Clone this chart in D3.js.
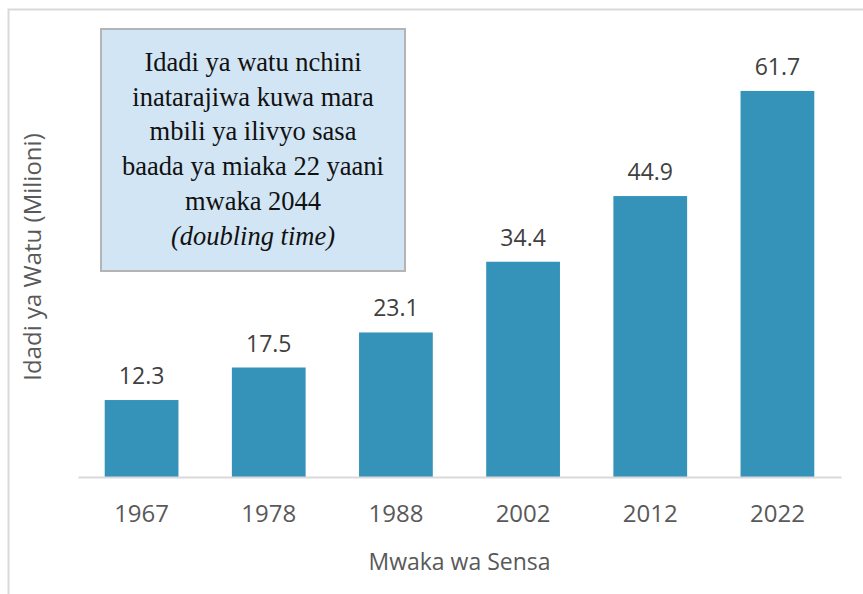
<html>
<head>
<meta charset="utf-8" />
<script src="https://cdnjs.cloudflare.com/ajax/libs/d3/7.8.5/d3.min.js"></script>
<style>
	body { margin: 0; background: #fff; }
	svg { display: block; }
</style>
</head>
<body>
<div id="chart"></div>
<script type="text/javascript">

	// census years and population (millions)
	var years = ["1967", "1978", "1988", "2002", "2012", "2022"];
	var population = [12.3, 17.5, 23.1, 34.4, 44.9, 61.7];

	var xTitle = "Mwaka wa Sensa";
	var yTitle = "Idadi ya Watu (Milioni)";
	var noteLines = [
		"Idadi ya watu nchini",
		"inatarajiwa kuwa mara",
		"mbili ya ilivyo sasa",
		"baada ya miaka 22 yaani",
		"mwaka 2044"
	];
	var noteItalic = "(doubling time)";

	var W = 863, H = 594;
	var plotLeft = 78, plotRight = 841, plotBase = 477, plotTop = 39;

	var svg = d3.select("#chart").append("svg")
		.attr("width", W)
		.attr("height", H);

	// chart frame (only left and top edges visible)
	svg.append("path")
		.attr("d", "M8.5," + H + "V9.5H" + W)
		.attr("fill", "none")
		.attr("stroke", "#d9d9d9")
		.attr("stroke-width", 2);

	var x = d3.scaleBand()
		.domain(years)
		.range([plotLeft, plotRight])
		.paddingInner(0.42)
		.paddingOuter(0.21);

	var y = d3.scaleLinear()
		.domain([0, 70])
		.range([plotBase, plotTop]);

	var labelFont = "'Open Sans', sans-serif";

	svg.append("g")
		.selectAll("rect")
		.data(population)
		.enter()
		.append("rect")
		.attr("x", function(d, i){ return x(years[i]); })
		.attr("y", function(d){ return y(d); })
		.attr("width", x.bandwidth())
		.attr("height", function(d){ return plotBase - y(d); })
		.attr("fill", "#3593ba");

	// value labels
	svg.append("g")
		.selectAll("text")
		.data(population)
		.enter()
		.append("text")
		.attr("x", function(d, i){ return x(years[i]) + x.bandwidth()/2; })
		.attr("y", function(d){ return y(d) - 16; })
		.attr("text-anchor", "middle")
		.attr("font-family", labelFont)
		.attr("font-size", "23px")
		.attr("fill", "#404040")
		.text(function(d){ return d.toFixed(1); });

	// x axis
	var xAxis = svg.append("g")
		.attr("transform", "translate(0," + plotBase + ")")
		.call(d3.axisBottom(x).tickSize(0).tickPadding(28));
	xAxis.select(".domain")
		.attr("stroke", "#d9d9d9")
		.attr("stroke-width", 2);
	xAxis.selectAll("text")
		.attr("font-family", labelFont)
		.attr("font-size", "24px")
		.attr("fill", "#595959");

	svg.append("text")
		.attr("x", (plotLeft + plotRight)/2)
		.attr("y", 570)
		.attr("text-anchor", "middle")
		.attr("font-family", labelFont)
		.attr("font-size", "23px")
		.attr("fill", "#595959")
		.text(xTitle);

	svg.append("text")
		.attr("transform", "translate(41,257) rotate(-90)")
		.attr("text-anchor", "middle")
		.attr("font-family", labelFont)
		.attr("font-size", "24px")
		.attr("fill", "#595959")
		.text(yTitle);

	// annotation box
	var note = svg.append("g");
	note.append("rect")
		.attr("x", 101)
		.attr("y", 29)
		.attr("width", 304)
		.attr("height", 242)
		.attr("fill", "#d2e5f4")
		.attr("stroke", "#b4b4b4")
		.attr("stroke-width", 2);

	var lines = noteLines.concat([noteItalic]);
	note.selectAll("text")
		.data(lines)
		.enter()
		.append("text")
		.attr("x", 253)
		.attr("y", function(d, i){ return 71 + i*34.7; })
		.attr("text-anchor", "middle")
		.attr("font-family", "'Liberation Serif', 'Times New Roman', serif")
		.attr("font-size", "26.5px")
		.attr("font-style", function(d){ return d === noteItalic ? "italic" : "normal"; })
		.attr("fill", "#111")
		.text(function(d){ return d; });

</script>
</body>
</html>
